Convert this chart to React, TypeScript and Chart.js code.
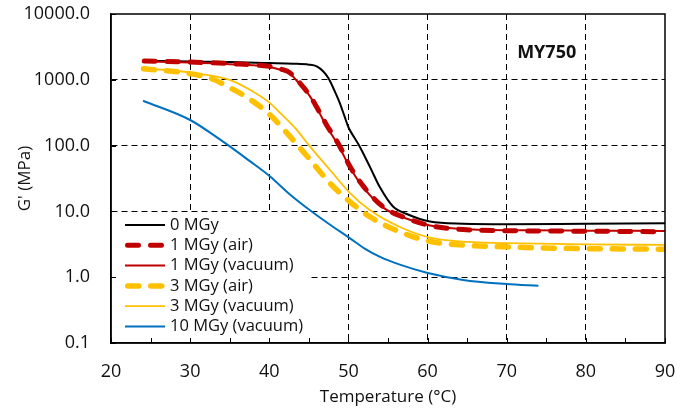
import React, { useEffect, useRef } from 'react';
import { Chart, registerables } from 'chart.js';

Chart.register(...registerables);

// ---- data ----
const seriesLabels = ['0 MGy', '1 MGy (air)', '1 MGy (vacuum)', '3 MGy (air)', '3 MGy (vacuum)', '10 MGy (vacuum)'];

const temp0 = [24.2, 30, 35, 40, 43, 45, 46, 46.8, 47.5, 48.2, 48.9, 49.5, 50, 50.7, 51.4, 52.7, 54, 55.6, 57.3, 60.3, 64.5, 70, 80, 90];
const g0 = [1950, 1900, 1860, 1800, 1760, 1700, 1600, 1350, 1050, 700, 447, 280, 190, 135, 98, 48, 23, 12, 9.2, 7.0, 6.5, 6.4, 6.5, 6.6];

const temp1Air = [24.2, 30, 35, 40, 41.5, 42.6, 43.5, 45.1, 46.3, 47.2, 48.9, 50.2, 51.9, 54.4, 57.3, 60.3, 64.5, 72.9, 80, 90];
const g1Air = [1930, 1860, 1760, 1600, 1450, 1280, 1000, 580, 330, 210, 98, 48, 24, 11.7, 7.9, 6.1, 5.3, 5.05, 5.0, 4.9];

const temp1Vac = [24.2, 30, 35, 40, 41.5, 42.6, 43.5, 45.1, 46.3, 47.2, 48.9, 50.2, 51.9, 54.4, 57.3, 60.3, 64.5, 72.9, 80, 90];
const g1Vac = [1900, 1830, 1730, 1560, 1410, 1250, 960, 570, 320, 200, 93, 46, 23, 11.4, 7.8, 6.1, 5.4, 5.15, 5.1, 5.05];

const temp3Air = [24.1, 30, 32.9, 35, 37.3, 40, 42.6, 45.1, 47.65, 50.2, 52.7, 56.3, 60.3, 64, 68.7, 77.1, 90];
const g3Air = [1470, 1240, 1020, 760, 530, 300, 138, 62, 27, 14, 8.3, 5.0, 3.5, 3.1, 2.92, 2.75, 2.66];

const temp3Vac = [24.1, 30, 35, 37.5, 40, 41.3, 43.45, 45.1, 47.65, 50.2, 52.7, 56.5, 60.3, 64, 70, 80, 90];
const g3Vac = [1500, 1290, 1000, 710, 450, 320, 175, 98, 43, 19, 10.5, 5.8, 4.0, 3.5, 3.3, 3.15, 3.1];

const temp10Vac = [24.05, 30, 33.8, 37.55, 40.1, 42.5, 45.1, 47.5, 50.2, 52, 54, 56.5, 59.9, 64.5, 69.95, 74];
const g10Vac = [480, 245, 123, 58, 34, 18.6, 10.5, 6.5, 3.9, 2.75, 2.04, 1.55, 1.17, 0.91, 0.79, 0.74];

const xMin = 20;
const xMax = 90;
const xStep = 5;
const xLabelStep = 10;
const yTickValues = [0.1, 1, 10, 100, 1000, 10000];
const yTickLabels = ['0.1', '1.0', '10.0', '100.0', '1000.0', '10000.0'];

const chartLabel = 'MY750';
const chartLabelAt = { x: 75.05, y: 2600 };

const FONT = "'Open Sans', 'Noto Sans', sans-serif";
const TEXT = '#111111';
const CLEAR = 'rgba(0,0,0,0)';

const pts = (xs: number[], ys: number[]) => xs.map((x, i) => ({ x, y: ys[i] }));

const styles = [
  { color: '#000000', width: 2, dash: [] as number[], cap: 'butt' },
  { color: '#C00000', width: 5, dash: [11, 12], cap: 'round' },
  { color: '#C00000', width: 2, dash: [] as number[], cap: 'butt' },
  { color: '#FFC000', width: 5.5, dash: [11, 12], cap: 'round' },
  { color: '#FFC000', width: 1.8, dash: [] as number[], cap: 'butt' },
  { color: '#0070C0', width: 2, dash: [] as number[], cap: 'butt' },
];

const seriesData = [
  pts(temp0, g0),
  pts(temp1Air, g1Air),
  pts(temp1Vac, g1Vac),
  pts(temp3Air, g3Air),
  pts(temp3Vac, g3Vac),
  pts(temp10Vac, g10Vac),
];

const decorPlugin = {
  id: 'decor',
  afterDraw(chart: any) {
    const { ctx, chartArea } = chart;
    const xs = chart.scales.x;
    const ys = chart.scales.y;
    ctx.save();

    // legend (inside plot, bottom-left)
    const boxLeft = chartArea.left + 1;
    const boxTop = 213;
    ctx.fillStyle = '#ffffff';
    ctx.fillRect(boxLeft, boxTop, 199, 125);
    const rowY0 = 225;
    const rowStep = 20.3;
    const sx0 = 125;
    const sx1 = 165;
    chart.data.datasets.forEach((ds: any, i: number) => {
      const y = rowY0 + i * rowStep;
      ctx.save();
      ctx.strokeStyle = ds.borderColor;
      ctx.lineWidth = ds.borderWidth;
      ctx.lineCap = ds.borderCapStyle;
      ctx.setLineDash(ds.borderDash || []);
      const inset = ds.borderCapStyle === 'round' ? ds.borderWidth / 2 : 0;
      ctx.beginPath();
      ctx.moveTo(sx0 + inset, y);
      ctx.lineTo(sx1 - inset, y);
      ctx.stroke();
      ctx.restore();
      ctx.fillStyle = TEXT;
      ctx.font = `16.5px ${FONT}`;
      ctx.textBaseline = 'middle';
      ctx.textAlign = 'left';
      ctx.fillText(ds.label, 170, y);
    });

    // inner tick marks
    ctx.strokeStyle = '#000';
    ctx.lineWidth = 1;
    ctx.setLineDash([]);
    xs.ticks.forEach((t: any) => {
      const px = Math.round(xs.getPixelForValue(t.value)) + 0.5;
      ctx.beginPath();
      ctx.moveTo(px, chartArea.bottom);
      ctx.lineTo(px, chartArea.bottom - 5);
      ctx.stroke();
    });
    ys.ticks.forEach((t: any) => {
      const py = Math.round(ys.getPixelForValue(t.value)) + 0.5;
      ctx.beginPath();
      ctx.moveTo(chartArea.left, py);
      ctx.lineTo(chartArea.left + 5, py);
      ctx.stroke();
    });

    // plot frame
    ctx.lineWidth = 1.5;
    ctx.strokeRect(chartArea.left, chartArea.top, chartArea.right - chartArea.left, chartArea.bottom - chartArea.top);

    // series label
    ctx.fillStyle = TEXT;
    ctx.font = `bold 18px ${FONT}`;
    ctx.textAlign = 'center';
    ctx.textBaseline = 'middle';
    ctx.fillText(chartLabel, xs.getPixelForValue(chartLabelAt.x), ys.getPixelForValue(chartLabelAt.y));
    ctx.restore();
  },
};

export default function App() {
  const ref = useRef<HTMLCanvasElement | null>(null);

  useEffect(() => {
    if (!ref.current) return;
    const chart = new Chart(ref.current, {
      type: 'line',
      data: {
        datasets: seriesLabels.map((label, i) => ({
          label,
          data: seriesData[i],
          borderColor: styles[i].color,
          backgroundColor: styles[i].color,
          borderWidth: styles[i].width,
          borderDash: styles[i].dash,
          borderCapStyle: styles[i].cap as any,
          pointRadius: 0,
          pointHoverRadius: 0,
          fill: false,
          tension: 0.4,
          cubicInterpolationMode: 'monotone' as const,
          order: -i,
        })),
      },
      options: {
        animation: false,
        responsive: false,
        devicePixelRatio: 1,
        layout: { autoPadding: false, padding: { top: 14, right: 12, left: 0, bottom: 0 } },
        plugins: { legend: { display: false }, tooltip: { enabled: false }, title: { display: false } },
        scales: {
          x: {
            type: 'linear',
            min: xMin,
            max: xMax,
            afterFit: (s: any) => { s.height = 67; },
            ticks: {
              stepSize: xStep,
              autoSkip: false,
              maxRotation: 0,
              padding: 0,
              color: TEXT,
              font: { family: FONT, size: 18 },
              callback: (v: any) => (Number(v) % xLabelStep === 0 ? String(v) : ''),
            },
            grid: {
              drawTicks: true,
              tickLength: 18,
              tickColor: CLEAR,
              lineWidth: 1,
              color: (c: any) => {
                const v = c.tick ? c.tick.value : NaN;
                return v % xLabelStep === 0 && v !== xMin && v !== xMax ? '#000' : CLEAR;
              },
            },
            border: { display: true, color: '#000', width: 1.5, dash: [6, 4] },
            title: {
              display: true,
              text: 'Temperature (°C)',
              color: TEXT,
              font: { family: FONT, size: 17 },
              padding: { top: 0, bottom: 3 },
            },
          },
          y: {
            type: 'logarithmic',
            min: yTickValues[0],
            max: yTickValues[yTickValues.length - 1],
            afterFit: (s: any) => { s.width = 111; },
            afterBuildTicks: (s: any) => { s.ticks = yTickValues.map((v) => ({ value: v })); },
            ticks: {
              padding: 0,
              color: TEXT,
              font: { family: FONT, size: 18 },
              callback: (_v: any, i: number) => yTickLabels[i],
            },
            grid: {
              drawTicks: true,
              tickLength: 21,
              tickColor: CLEAR,
              lineWidth: 1,
              color: (c: any) => {
                const v = c.tick ? c.tick.value : NaN;
                return v !== yTickValues[0] && v !== yTickValues[yTickValues.length - 1] ? '#000' : CLEAR;
              },
            },
            border: { display: true, color: '#000', width: 1.5, dash: [6, 4] },
            title: {
              display: true,
              text: "G' (MPa)",
              color: TEXT,
              font: { family: FONT, size: 17 },
              padding: { top: 15, bottom: 0 },
            },
          },
        },
      },
      plugins: [decorPlugin],
    });
    return () => chart.destroy();
  }, []);

  return (
    <div style={{ position: 'fixed', left: 0, top: 0, width: 677, height: 410, background: '#fff' }}>
      <canvas ref={ref} width={677} height={410} style={{ display: 'block', width: 677, height: 410 }} />
    </div>
  );
}
